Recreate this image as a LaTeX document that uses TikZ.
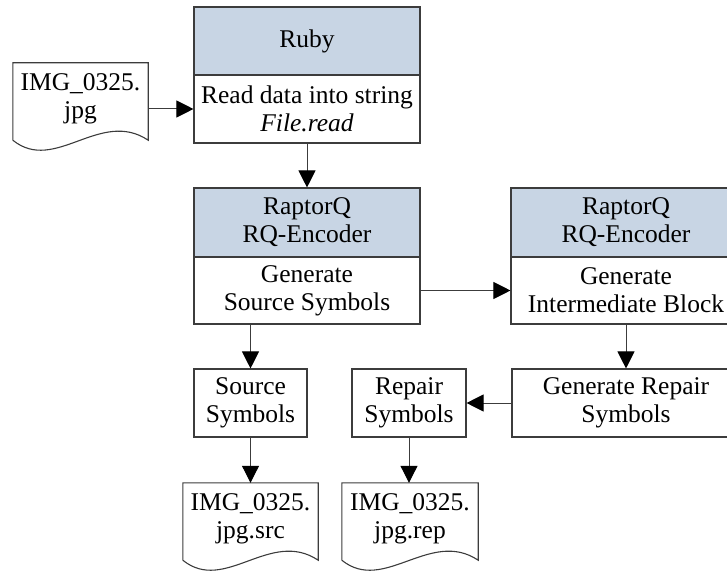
\documentclass[tikz,border=0pt]{standalone}
\usepackage{fontspec}
\setmainfont{Liberation Serif}
\usetikzlibrary{arrows.meta,calc}

\definecolor{headfill}{RGB}{200,213,228}
\definecolor{edgegray}{RGB}{60,60,60}

\begin{document}
\begin{tikzpicture}[x=1pt,y=-1pt,
  every node/.style={font=\fontsize{25.5}{28}\selectfont, align=center, inner sep=0pt},
  box/.style={draw=edgegray, line width=1.1pt, minimum height=68pt},
  headbox/.style={box, fill=headfill},
  docarea/.style={draw=none, minimum height=77pt},
  docline/.style={draw=edgegray, line width=1.1pt},
  arrow/.style={draw=edgegray, line width=1pt,
    -{Triangle[length=17pt,width=17pt,color=black,fill=black]}}
]
\useasboundingbox (0,0) rectangle (727,572);
\clip (0,0) rectangle (727,572);

% Ruby stage
\node[headbox, minimum width=226pt] (rubyHead) at (307,41) {Ruby};
\node[box, minimum width=226pt] (rubyBody) at (307,109)
  {Read data into string\\\textit{File.read}};

% Encoder stages
\node[headbox, minimum width=226pt, minimum height=69pt] (encAHead) at (307,222.5)
  {RaptorQ\\RQ-Encoder};
\node[box, minimum width=226pt, minimum height=67pt] (encABody) at (307,290.5)
  {Generate\\Source Symbols};
\node[headbox, minimum width=230pt, minimum height=69pt] (encBHead) at (626,222.5)
  {RaptorQ\\RQ-Encoder};
\node[box, minimum width=230pt, minimum height=67pt] (encBBody) at (626,290.5)
  {Generate\\Intermediate Block};

% Symbol boxes
\node[box, minimum width=113pt] (srcSym) at (250.5,403) {Source\\Symbols};
\node[box, minimum width=114pt] (repSym) at (409,403) {Repair\\Symbols};
\node[box, minimum width=228pt] (genRep) at (626,403) {Generate Repair\\Symbols};

% Documents
\node[docarea, minimum width=135pt] (docIn) at (80.5,101.5) {};
\node (docInText) at ($(docIn.center)+(0,-3)$) {IMG\_0325.\\jpg};
\node[docarea, minimum width=135pt] (docSrc) at (250.5,521.5) {};
\node (docSrcText) at ($(docSrc.center)+(0,-3)$) {IMG\_0325.\\jpg.src};
\node[docarea, minimum width=136pt] (docRep) at (410,521.5) {};
\node (docRepText) at ($(docRep.center)+(0,-3)$) {IMG\_0325.\\jpg.rep};

\foreach \d in {docIn,docSrc,docRep}{
  \draw[docline] (\d.south west) -- (\d.north west) -- (\d.north east) -- (\d.south east)
    .. controls +(-48,-32) and +(42,34) .. (\d.south west);
}

% Connectors
\draw[arrow] (docIn.east |- rubyBody.west) -- (rubyBody.west);
\draw[arrow] (rubyBody.south) -- (encAHead.north);
\draw[arrow] (encABody.east) -- (encBBody.west);
\draw[arrow] (srcSym.north |- encABody.south) -- (srcSym.north);
\draw[arrow] (encBBody.south) -- (genRep.north);
\draw[arrow] (genRep.west) -- (repSym.east);
\draw[arrow] (srcSym.south) -- (srcSym.south |- docSrc.north);
\draw[arrow] (repSym.south) -- (repSym.south |- docRep.north);
\end{tikzpicture}
\end{document}
